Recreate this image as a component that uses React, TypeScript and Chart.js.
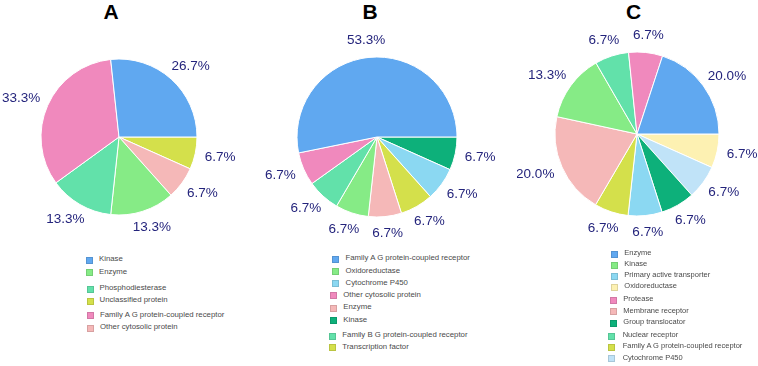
import React, { useEffect, useRef } from "react";
import { Chart, registerables } from "chart.js";
Chart.register(...registerables);

// colours
const BLUE = "#60a8f0";
const PINK = "#f089bd";
const TEAL = "#62e1aa";
const GREEN = "#86eb86";
const LIGHTPINK = "#f5b8b8";
const YELLOWGREEN = "#d4e04b";
const DARKGREEN = "#0db07a";
const SKYBLUE = "#8bd8f2";
const LIGHTYELLOW = "#fdf1b2";
const PALEBLUE = "#c0e3f8";
const LABEL_COLOR = "#24247c";

// Panel A — slices clockwise from 3 o'clock
const aLabels = ["Unclassified protein", "Other cytosolic protein", "Enzyme", "Phosphodiesterase", "Family A G protein-coupled receptor", "Kinase"];
const aValues = [6.7, 6.7, 13.3, 13.3, 33.3, 26.7];
const aColors = [YELLOWGREEN, LIGHTPINK, GREEN, TEAL, PINK, BLUE];
const aLegend = [["Kinase", "Enzyme"], ["Phosphodiesterase", "Unclassified protein"], ["Family A G protein-coupled receptor", "Other cytosolic protein"]];

// Panel B
const bLabels = ["Kinase", "Cytochrome P450", "Transcription factor", "Enzyme", "Oxidoreductase", "Family B G protein-coupled receptor", "Other cytosolic protein", "Family A G protein-coupled receptor"];
const bValues = [6.7, 6.7, 6.7, 6.7, 6.7, 6.7, 6.7, 53.3];
const bColors = [DARKGREEN, SKYBLUE, YELLOWGREEN, LIGHTPINK, GREEN, TEAL, PINK, BLUE];
const bLegend = [["Family A G protein-coupled receptor", "Oxidoreductase", "Cytochrome P450"], ["Other cytosolic protein", "Enzyme", "Kinase"], ["Family B G protein-coupled receptor", "Transcription factor"]];

// Panel C
const cLabels = ["Oxidoreductase", "Cytochrome P450", "Group translocator", "Primary active transporter", "Family A G protein-coupled receptor", "Membrane receptor", "Kinase", "Nuclear receptor", "Protease", "Enzyme"];
const cValues = [6.7, 6.7, 6.7, 6.7, 6.7, 20.0, 13.3, 6.7, 6.7, 20.0];
const cColors = [LIGHTYELLOW, PALEBLUE, DARKGREEN, SKYBLUE, YELLOWGREEN, LIGHTPINK, GREEN, TEAL, PINK, BLUE];
const cLegend = [["Enzyme", "Kinase", "Primary active transporter", "Oxidoreductase"], ["Protease", "Membrane receptor", "Group translocator"], ["Nuclear receptor", "Family A G protein-coupled receptor", "Cytochrome P450"]];

const outsideLabels = {
  id: "outsideLabels",
  afterDatasetsDraw(chart: any) {
    const ctx = chart.ctx;
    const meta = chart.getDatasetMeta(0);
    const ds = chart.data.datasets[0];
    ctx.save();
    ctx.font = "13.5px 'Liberation Sans', Arial, sans-serif";
    ctx.fillStyle = LABEL_COLOR;
    ctx.textAlign = "center";
    ctx.textBaseline = "middle";
    meta.data.forEach((arc: any, i: number) => {
      const p = arc.getProps(["x", "y", "startAngle", "endAngle", "outerRadius"], true);
      const mid = (p.startAngle + p.endAngle) / 2;
      const dx = Math.cos(mid);
      const dy = Math.sin(mid);
      const text = Number(ds.data[i]).toFixed(1) + "%";
      const w = ctx.measureText(text).width;
      const h = 10;
      const px = p.x + dx * (p.outerRadius + 10) + (dx * w) / 2;
      const py = p.y + dy * (p.outerRadius + 10) + dy * (h / 2 + 2);
      ctx.fillText(text, px, py);
    });
    ctx.restore();
  },
};

type PanelProps = {
  title: string;
  labels: string[];
  values: number[];
  colors: string[];
  legend: string[][];
  cx: number;
  cy: number;
  radius: number;
  titleX: number;
  legendLayout: { top: number; step: number; sq: number; text: number }[];
  legendFont: number;
};

function Panel(props: PanelProps) {
  const ref = useRef<HTMLCanvasElement | null>(null);
  const W = 240;
  const H = 230;
  useEffect(() => {
    if (!ref.current) return;
    const chart = new Chart(ref.current, {
      type: "pie",
      data: {
        labels: props.labels,
        datasets: [
          {
            data: props.values,
            backgroundColor: props.colors,
            borderColor: "#ffffff",
            borderWidth: 1,
            radius: props.radius,
          } as any,
        ],
      },
      options: {
        responsive: false,
        animation: false,
        rotation: 90,
        layout: { padding: 0 },
        plugins: { legend: { display: false }, tooltip: { enabled: false }, title: { display: false } },
      } as any,
      plugins: [outsideLabels],
    });
    return () => chart.destroy();
  }, []);
  const colorOf = (name: string) => props.colors[props.labels.indexOf(name)];
  return (
    <>
      <div
        style={{
          position: "absolute",
          left: props.titleX - 20,
          width: 40,
          top: 0,
          height: 24,
          lineHeight: "24px",
          textAlign: "center",
          font: "bold 21px 'Liberation Sans', Arial, sans-serif",
          color: "#000",
        }}
      >
        {props.title}
      </div>
      <canvas
        ref={ref}
        width={W}
        height={H}
        style={{ position: "absolute", left: props.cx - W / 2, top: props.cy - H / 2, width: W, height: H }}
      />
      {props.legend.map((group, gi) =>
        group.map((name, ii) => {
          const L = props.legendLayout[gi];
          const y = L.top + ii * L.step;
          return (
            <React.Fragment key={gi + "-" + ii}>
              <div
                style={{
                  position: "absolute",
                  left: L.sq - 3.5,
                  top: y - 3.5,
                  width: 7,
                  height: 7,
                  boxSizing: "border-box",
                  background: colorOf(name),
                  border: "1px solid rgba(0,0,0,0.12)",
                }}
              />
              <div
                style={{
                  position: "absolute",
                  left: L.text,
                  top: y - 6,
                  height: 12,
                  lineHeight: "12px",
                  whiteSpace: "nowrap",
                  font: props.legendFont + "px 'Liberation Sans', Arial, sans-serif",
                  color: "#4a4a4a",
                }}
              >
                {name}
              </div>
            </React.Fragment>
          );
        })
      )}
    </>
  );
}

export default function App() {
  return (
    <div style={{ position: "absolute", left: 0, top: 0, width: 758, height: 366, background: "#fff", overflow: "hidden" }}>
      <Panel
        title="A"
        labels={aLabels}
        values={aValues}
        colors={aColors}
        legend={aLegend}
        cx={119}
        cy={137}
        radius={78}
        titleX={111}
        legendFont={7.8}
        legendLayout={[
          { top: 260, step: 12.7, sq: 89, text: 99 },
          { top: 289, step: 12, sq: 90, text: 99.5 },
          { top: 315.7, step: 12.3, sq: 90.5, text: 100 },
        ]}
      />
      <Panel
        title="B"
        labels={bLabels}
        values={bValues}
        colors={bColors}
        legend={bLegend}
        cx={377}
        cy={137}
        radius={80}
        titleX={370}
        legendFont={7.8}
        legendLayout={[
          { top: 259.3, step: 12.2, sq: 335, text: 345.5 },
          { top: 295.7, step: 12.5, sq: 333.3, text: 343.3 },
          { top: 336, step: 11.7, sq: 332, text: 342.3 },
        ]}
      />
      <Panel
        title="C"
        labels={cLabels}
        values={cValues}
        colors={cColors}
        legend={cLegend}
        cx={637}
        cy={133.5}
        radius={82}
        titleX={633.5}
        legendFont={7.5}
        legendLayout={[
          { top: 254.3, step: 10.9, sq: 614.3, text: 624.3 },
          { top: 300, step: 11.5, sq: 613.3, text: 623.3 },
          { top: 336, step: 11.3, sq: 611.7, text: 622.7 },
        ]}
      />
    </div>
  );
}
